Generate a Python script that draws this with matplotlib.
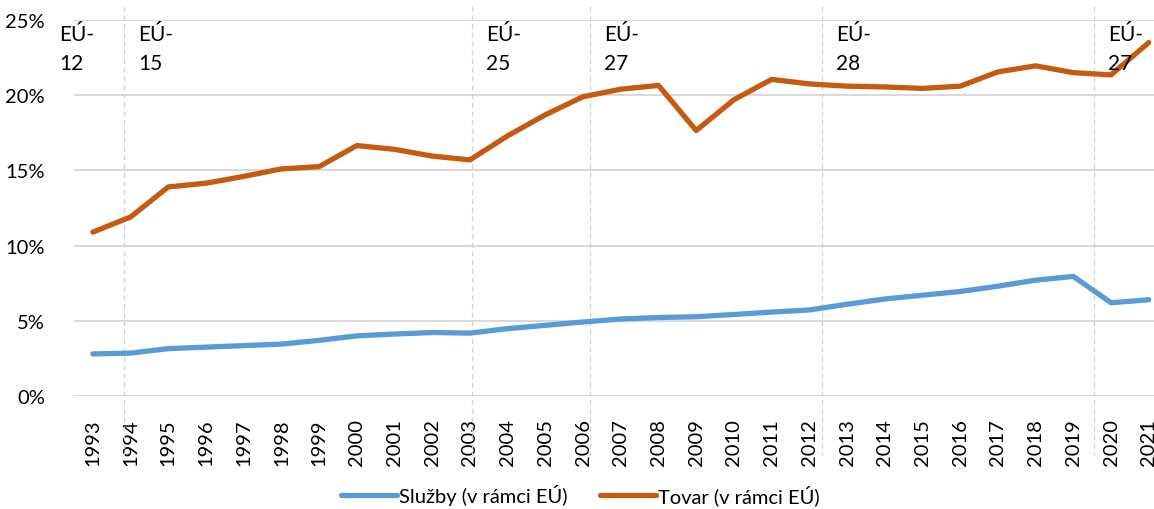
import matplotlib
matplotlib.use("Agg")
import matplotlib.pyplot as plt
from matplotlib.ticker import FuncFormatter

plt.rcParams['font.family'] = ['Lato', 'DejaVu Sans']

# data (% share)
years = [str(y) for y in range(1993, 2022)]
sluzby = [2.8, 2.85, 3.15, 3.25, 3.35, 3.45, 3.7, 4.0, 4.12, 4.22, 4.18, 4.48, 4.7, 4.92,
          5.12, 5.22, 5.27, 5.42, 5.58, 5.72, 6.1, 6.45, 6.7, 6.95, 7.3, 7.7, 7.95, 6.2, 6.4]
tovar = [10.9, 11.9, 13.9, 14.15, 14.6, 15.1, 15.25, 16.65, 16.4, 15.95, 15.7, 17.3, 18.7, 19.9,
         20.4, 20.65, 17.65, 19.7, 21.05, 20.75, 20.6, 20.55, 20.45, 20.6, 21.55, 21.95, 21.5, 21.35, 23.5]
# EU enlargement markers (position in category units, label)
enl_pos = [0.82, 10.05, 13.18, 19.33, 26.55]
enl_labels = ['EÚ-\n15', 'EÚ-\n25', 'EÚ-\n27', 'EÚ-\n28', 'EÚ-\n27']
eu12_label = 'EÚ-\n12'

blue = '#5B9BD5'
orange = '#C55A11'
grid = '#D9D9D9'

fig = plt.figure(figsize=(11.54, 5.10), dpi=100)
ax = fig.add_axes([74 / 1154, 113 / 510, 1093.6 / 1154, 376 / 510])

x = list(range(len(years)))
ax.plot(x, sluzby, color=blue, lw=3.8, solid_capstyle='round', label='Služby (v rámci EÚ)', zorder=3)
ax.plot(x, tovar, color=orange, lw=3.8, solid_capstyle='round', label='Tovar (v rámci EÚ)', zorder=3)

ax.set_xlim(-0.5, len(years) - 0.5)
ax.set_ylim(0, 25)
ax.set_yticks([0, 5, 10, 15, 20, 25])
ax.yaxis.set_major_formatter(FuncFormatter(lambda v, p: f'{v:.0f}%'))
ax.set_xticks(x)
ax.set_xticklabels(years, rotation=90)
ax.tick_params(axis='y', length=0, pad=21, labelsize=14.5, colors='#000000')
ax.tick_params(axis='x', length=0, pad=16, labelsize=14.5, colors='#000000')
ax.grid(axis='y', color=grid, lw=1.5, zorder=1)
for s in ax.spines.values():
    s.set_visible(False)
ax.set_axisbelow(True)

# dashed enlargement lines
for p in enl_pos:
    ax.plot([p, p], [25.9, -3.9], color='#D0D0D0', lw=0.9, ls=(0, (4, 3)),
            clip_on=False, zorder=2)

ax.text(-0.9, 24.75, eu12_label, fontsize=15, va='top', ha='left', linespacing=1.55)
for p, lab in zip(enl_pos, enl_labels):
    ax.text(p + 0.38, 24.75, lab, fontsize=15, va='top', ha='left', linespacing=1.55)

fig.legend(loc='lower center', bbox_to_anchor=(0.503, -0.028), ncol=2, frameon=False,
           fontsize=14.5, handlelength=2.8, columnspacing=1.6, handletextpad=0.1)

fig.savefig('out.png', dpi=100)
